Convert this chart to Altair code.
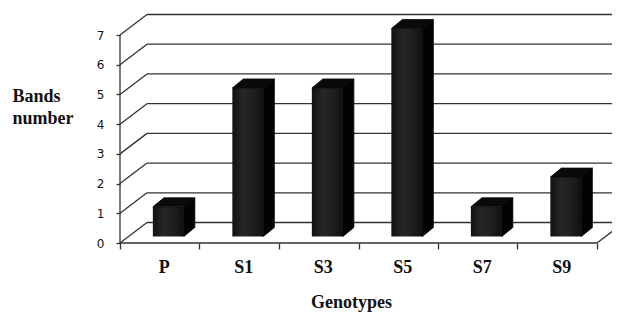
import altair as alt
import pandas as pd

# ---- data ----
categories = ["P", "S1", "S3", "S5", "S7", "S9"]
values = [1, 5, 5, 7, 1, 2]
y_ticks = [0, 1, 2, 3, 4, 5, 6, 7]
x_title = "Genotypes"
y_title = ["Bands", "number"]

# ---- 3D geometry (in data units) ----
XMAX = 492 / 79.5
YMAX = 235 / 29.714
WALL_DX, WALL_DY = 27 / 79.5, 20.5 / 29.714       # depth of the back wall
FACE_DX, FACE_DY = 8.6 / 79.5, 6.5 / 29.714       # bar front-face offset
BAR_DX, BAR_DY = 11 / 79.5, 9 / 29.714            # bar depth
HALF_W = 0.195
n = len(categories)
top = max(y_ticks)

# grid: back wall horizontals, left-wall diagonals, floor right diagonal
grid_rows = []
for k in y_ticks:
    grid_rows.append(dict(x=WALL_DX, x2=XMAX, y=k + WALL_DY, y2=k + WALL_DY))
    grid_rows.append(dict(x=0, x2=WALL_DX, y=k, y2=k + WALL_DY))
grid_rows.append(dict(x=n, x2=n + WALL_DX, y=0, y2=WALL_DY))
grid_df = pd.DataFrame(grid_rows)

# front axis lines
axis_df = pd.DataFrame([
    dict(x=0, x2=0, y=0, y2=top),
    dict(x=0, x2=n, y=0, y2=0),
])

front_rows, top_rows, side_rows = [], [], []
for i, (c, v) in enumerate(zip(categories, values)):
    cx = i + 0.5 + FACE_DX
    xl, xr = cx - HALF_W, cx + HALF_W
    yb, yt = FACE_DY, v + FACE_DY
    front_rows.append(dict(x=xl, x2=xr, y=yb, y2=yt))
    for px, lo, hi in [(xl, yt, yt), (xl + BAR_DX, yt, yt + BAR_DY),
                       (xr, yt, yt + BAR_DY), (xr + BAR_DX, yt + BAR_DY, yt + BAR_DY)]:
        top_rows.append(dict(id=c, x=px, y=lo, y2=hi))
    for px, lo, hi in [(xr, yb, yt), (xr + BAR_DX, yb + BAR_DY, yt + BAR_DY)]:
        side_rows.append(dict(id=c, x=px, y=lo, y2=hi))
front_df = pd.DataFrame(front_rows)
top_df = pd.DataFrame(top_rows)
side_df = pd.DataFrame(side_rows)

label_df = pd.DataFrame(dict(x=[i + 0.557 for i in range(n)], y=[0] * n, label=categories))

# ---- scales and axes ----
xs = alt.Scale(domain=[0, XMAX], nice=False, zero=False)
ys = alt.Scale(domain=[0, YMAX], nice=False, zero=False)
xaxis = alt.Axis(values=list(range(n + 1)), labels=False, domain=False, grid=False,
                 ticks=True, tickSize=6, tickColor="#333", tickWidth=1.3,
                 title=x_title, titleFont="Liberation Serif", titleFontSize=18,
                 titleFontWeight="bold", titleColor="#111", titleX=231, titleY=50,
                 titleAlign="center", titleBaseline="top")
yaxis = alt.Axis(values=y_ticks, domain=False, grid=False, ticks=True, tickSize=4,
                 tickColor="#333", tickWidth=1.3, labelFont="DejaVu Sans",
                 labelFontSize=12, labelColor="#111", labelPadding=12,
                 title=y_title, titleFont="Liberation Serif", titleFontSize=18,
                 titleFontWeight="bold", titleColor="#111", titleAngle=0,
                 titleAlign="left", titleBaseline="top", titleX=-108, titleY=79,
                 titleLineHeight=22)

X = lambda: alt.X("x:Q", scale=xs, axis=xaxis)
Y = lambda: alt.Y("y:Q", scale=ys, axis=yaxis)

grid = alt.Chart(grid_df).mark_rule(color="#333", strokeWidth=1.3).encode(
    x=X(), x2="x2:Q", y=Y(), y2="y2:Q")
axes = alt.Chart(axis_df).mark_rule(color="#333", strokeWidth=1.3).encode(
    x=X(), x2="x2:Q", y=Y(), y2="y2:Q")

front = alt.Chart(front_df).mark_rect(
    color=alt.Gradient(gradient="linear", x1=0, x2=1, y1=0, y2=0,
                       stops=[alt.GradientStop(color="#121212", offset=0),
                              alt.GradientStop(color="#262626", offset=0.35),
                              alt.GradientStop(color="#1e1e1e", offset=0.7),
                              alt.GradientStop(color="#101010", offset=1)])
).encode(x=X(), x2="x2:Q", y=Y(), y2="y2:Q")

topf = alt.Chart(top_df).mark_area(color="#0a0a0a", stroke="#0a0a0a", strokeWidth=0.8).encode(
    x=X(), y=Y(), y2="y2:Q", detail="id:N")
side = alt.Chart(side_df).mark_area(color="#030303", stroke="#030303", strokeWidth=0.8).encode(
    x=X(), y=Y(), y2="y2:Q", detail="id:N")

labels = alt.Chart(label_df).mark_text(
    font="Liberation Serif", fontSize=18, fontWeight="bold", color="#111",
    dy=25, baseline="middle", align="center"
).encode(x=X(), y=Y(), text="label:N")

chart = alt.layer(grid, front, topf, side, axes, labels).properties(
    width=492, height=235,
    autosize=alt.AutoSizeParams(type="none"),
    padding={"left": 112, "top": 0, "right": 0, "bottom": 74},
    background="white",
).configure_view(stroke=None)

chart.save("out.html", embed_options={"renderer": "svg", "actions": False})
